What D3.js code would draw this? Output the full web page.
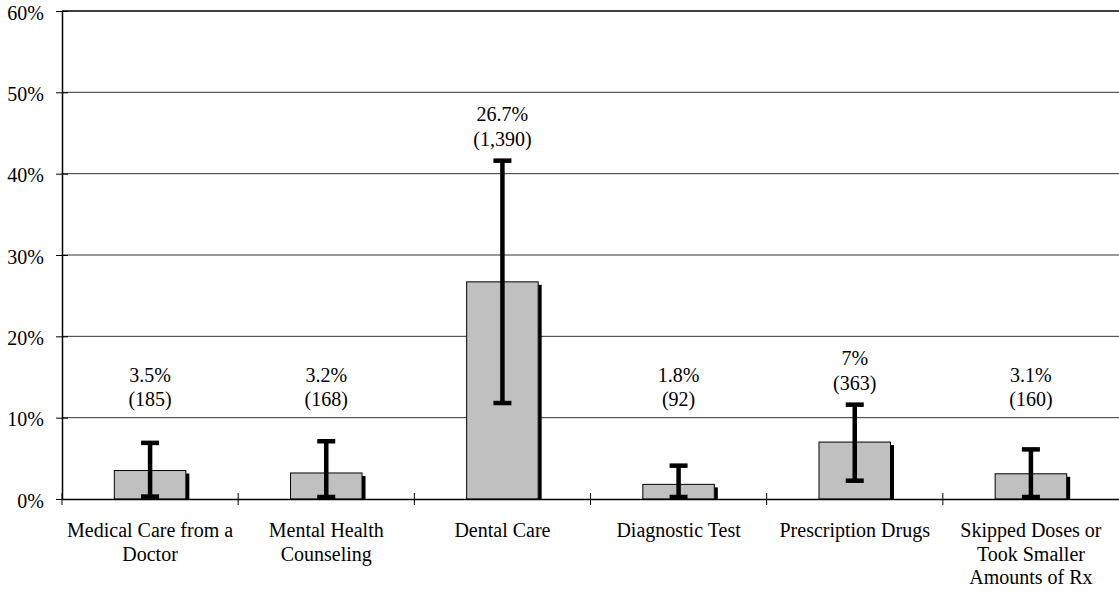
<!DOCTYPE html>
<html>
<head>
<meta charset="utf-8">
<script src="https://cdn.jsdelivr.net/npm/d3@7"></script>
<style>
  html, body { margin: 0; padding: 0; background: #fff; }
  svg { display: block; }
  text { font-family: "Liberation Serif", "Times New Roman", serif; fill: #000; }
</style>
</head>
<body>
<div id="chart"></div>
<script>
// data
var categories = [
  "Medical Care from a Doctor",
  "Mental Health Counseling",
  "Dental Care",
  "Diagnostic Test",
  "Prescription Drugs",
  "Skipped Doses or Took Smaller Amounts of Rx"
];
var categoryLines = [
  ["Medical Care from a", "Doctor"],
  ["Mental Health", "Counseling"],
  ["Dental Care"],
  ["Diagnostic Test"],
  ["Prescription Drugs"],
  ["Skipped Doses or", "Took Smaller", "Amounts of Rx"]
];
var values = [3.5, 3.2, 26.7, 1.8, 7.0, 3.1];
var valueLabels = ["3.5%", "3.2%", "26.7%", "1.8%", "7%", "3.1%"];
var countLabels = ["(185)", "(168)", "(1,390)", "(92)", "(363)", "(160)"];
var errLow = [0.3, 0, 11.8, 0, 2.25, 0.1];
var errHigh = [6.9, 7.1, 41.6, 4.1, 11.6, 6.1];
var yTicks = [0, 10, 20, 30, 40, 50, 60];

var width = 1119, height = 594;
var plotLeft = 62, plotRight = 1119, plotTop = 11, plotBottom = 499;
var fontSize = 20;

var svg = d3.select("#chart").append("svg")
  .attr("width", width)
  .attr("height", height);

var x = d3.scaleBand().domain(categories).range([plotLeft, plotRight]);
var y = d3.scaleLinear().domain([0, 60]).range([plotBottom, plotTop]);

// gridlines
svg.append("g")
  .selectAll("line")
  .data(yTicks.filter(function (d) { return d > 0 && d < 60; }))
  .enter().append("line")
  .attr("x1", plotLeft).attr("x2", plotRight)
  .attr("y1", function (d) { return y(d); })
  .attr("y2", function (d) { return y(d); })
  .attr("stroke", "#333")
  .attr("stroke-width", 1);

// top border
svg.append("line")
  .attr("x1", plotLeft).attr("x2", plotRight)
  .attr("y1", y(60)).attr("y2", y(60))
  .attr("stroke", "#000").attr("stroke-width", 1.5);

// y axis
var yAxis = svg.append("g")
  .attr("transform", "translate(" + plotLeft + ",0)")
  .call(d3.axisLeft(y).tickValues(yTicks)
    .tickFormat(function (d) { return d + "%"; })
    .tickSizeInner(6).tickSizeOuter(0).tickPadding(12));
yAxis.select(".domain").attr("stroke", "#000").attr("stroke-width", 1.5);
yAxis.selectAll(".tick line").attr("x2", 6).attr("x1", -6).attr("stroke", "#000");
yAxis.selectAll(".tick text")
  .attr("font-size", fontSize)
  .attr("font-family", "Liberation Serif, serif")
  .attr("dy", "0.4em");

// bars
var barW = x.bandwidth() * 0.406;
var shadow = 3.5;
var bars = svg.append("g");
bars.selectAll(".shadow")
  .data(values)
  .enter().append("rect")
  .attr("class", "shadow")
  .attr("x", function (d, i) { return x(categories[i]) + (x.bandwidth() + barW) / 2; })
  .attr("y", function (d) { return Math.min(y(d) + 3, plotBottom); })
  .attr("width", shadow)
  .attr("height", function (d) { return Math.max(0, plotBottom - y(d) - 3); })
  .attr("fill", "#000");

bars.selectAll(".bar")
  .data(values)
  .enter().append("rect")
  .attr("class", "bar")
  .attr("x", function (d, i) { return x(categories[i]) + (x.bandwidth() - barW) / 2; })
  .attr("y", function (d) { return y(d); })
  .attr("width", barW)
  .attr("height", function (d) { return plotBottom - y(d); })
  .attr("fill", "#c0c0c0")
  .attr("stroke", "#000")
  .attr("stroke-width", 1);

// x axis
var xAxis = svg.append("g")
  .attr("transform", "translate(0," + plotBottom + ")")
  .call(d3.axisBottom(x).tickSize(0).tickFormat(""));
xAxis.select(".domain").attr("stroke", "#000").attr("stroke-width", 1.5);

svg.append("g")
  .selectAll("line")
  .data(categories)
  .enter().append("line")
  .attr("x1", function (d) { return x(d); })
  .attr("x2", function (d) { return x(d); })
  .attr("y1", plotBottom - 6)
  .attr("y2", plotBottom + 6)
  .attr("stroke", "#000")
  .attr("stroke-width", 1);

// error bars
var capW = 18;
var err = svg.append("g");
values.forEach(function (v, i) {
  var cx = x(categories[i]) + x.bandwidth() / 2;
  var yHi = y(errHigh[i]), yLo = y(errLow[i]);
  err.append("line")
    .attr("x1", cx).attr("x2", cx)
    .attr("y1", yHi).attr("y2", yLo)
    .attr("stroke", "#000").attr("stroke-width", 4.5);
  [yHi, Math.min(yLo, plotBottom - 2)].forEach(function (yy) {
    err.append("line")
      .attr("x1", cx - capW / 2).attr("x2", cx + capW / 2)
      .attr("y1", yy).attr("y2", yy)
      .attr("stroke", "#000").attr("stroke-width", 4.5);
  });
});

// value labels
var labels = svg.append("g").attr("text-anchor", "middle").attr("font-size", fontSize);
values.forEach(function (v, i) {
  var cx = x(categories[i]) + x.bandwidth() / 2;
  var base2 = Math.min(406, y(errHigh[i]) - 15);
  labels.append("text").attr("x", cx).attr("y", base2 - 24.5).text(valueLabels[i]);
  labels.append("text").attr("x", cx).attr("y", base2).text(countLabels[i]);
});

// category labels
var catG = svg.append("g").attr("text-anchor", "middle").attr("font-size", fontSize);
categoryLines.forEach(function (lines, i) {
  var cx = x(categories[i]) + x.bandwidth() / 2;
  lines.forEach(function (t, j) {
    catG.append("text").attr("x", cx).attr("y", 537 + j * 23.5).text(t);
  });
});
</script>
</body>
</html>
